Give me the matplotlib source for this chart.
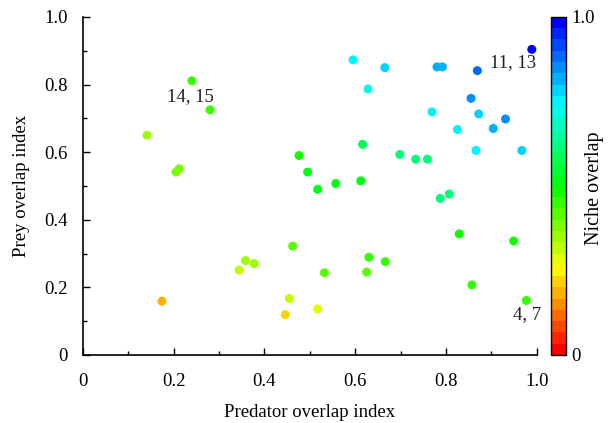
import matplotlib
matplotlib.use("Agg")
import matplotlib.pyplot as plt
from matplotlib.colors import LinearSegmentedColormap, Normalize
from matplotlib.ticker import MultipleLocator, FixedLocator
import numpy as np

plt.rcParams['font.family'] = ['Liberation Serif', 'DejaVu Serif']
plt.rcParams['mathtext.fontset'] = 'stix'

# Pairwise overlap indices
predator_overlap = [
    0.240, 0.280, 0.141, 0.205, 0.212, 0.476, 0.495, 0.517,
    0.989, 0.869, 0.595, 0.665, 0.780, 0.792, 0.628, 0.855,
    0.769, 0.872, 0.931, 0.825, 0.904, 0.616, 0.866, 0.967,
    0.698, 0.733, 0.759, 0.557, 0.612,
    0.787, 0.807, 0.829, 0.949, 0.630, 0.666, 0.532, 0.625,
    0.857, 0.977,
    0.462, 0.358, 0.377, 0.344, 0.174, 0.455, 0.446, 0.517,
]
prey_overlap = [
    0.811, 0.725, 0.650, 0.541, 0.551, 0.590, 0.541, 0.490,
    0.904, 0.841, 0.873, 0.850, 0.852, 0.852, 0.787, 0.759,
    0.719, 0.713, 0.698, 0.667, 0.670, 0.623, 0.605, 0.605,
    0.593, 0.579, 0.579, 0.507, 0.515,
    0.463, 0.476, 0.358, 0.337, 0.289, 0.276, 0.243, 0.245,
    0.207, 0.161,
    0.322, 0.279, 0.270, 0.251, 0.159, 0.167, 0.119, 0.136,
]
niche_overlap = [
    0.45, 0.46, 0.36, 0.38, 0.38, 0.49, 0.50, 0.50,
    0.97, 0.87, 0.74, 0.77, 0.82, 0.82, 0.70, 0.84,
    0.74, 0.79, 0.85, 0.76, 0.80, 0.57, 0.74, 0.79,
    0.62, 0.63, 0.63, 0.53, 0.51,
    0.60, 0.60, 0.49, 0.49, 0.45, 0.45, 0.41, 0.41,
    0.45, 0.44,
    0.43, 0.35, 0.35, 0.33, 0.17, 0.31, 0.23, 0.29,
]

pair_labels = ["14, 15", "11, 13", "4, 7"]
pair_label_pos = [(0.236, 0.763), (0.947, 0.864), (0.979, 0.118)]

tick_values = [0, 0.2, 0.4, 0.6, 0.8, 1.0]
tick_labels = ["0", "0.2", "0.4", "0.6", "0.8", "1.0"]

cmap = LinearSegmentedColormap.from_list(
    "niche",
    [(0.0, "#ff0000"), (0.25, "#ffff00"), (0.5, "#00ff00"),
     (0.75, "#00ffff"), (1.0, "#0000ff")],
    N=30,
)
norm = Normalize(vmin=0, vmax=1)

fig = plt.figure(figsize=(6.10, 4.23), dpi=100)
ax = fig.add_axes([0.136, 0.161, 0.744, 0.799])

ax.scatter(predator_overlap, prey_overlap, c=niche_overlap, cmap=cmap,
           norm=norm, s=42, edgecolors='none', zorder=3)

for lbl, (tx, ty) in zip(pair_labels, pair_label_pos):
    ax.text(tx, ty, lbl, ha='center', va='center', fontsize=13.5, color='#222222')

ax.set_xlim(0, 1.0)
ax.set_ylim(0, 1.0)
ax.xaxis.set_major_locator(FixedLocator(tick_values))
ax.yaxis.set_major_locator(FixedLocator(tick_values))
ax.set_xticklabels(tick_labels)
ax.set_yticklabels(tick_labels)
ax.xaxis.set_minor_locator(MultipleLocator(0.1))
ax.yaxis.set_minor_locator(MultipleLocator(0.1))
ax.tick_params(which='major', direction='in', length=5, width=1, labelsize=13.5)
ax.tick_params(which='minor', direction='in', length=3, width=1)
ax.tick_params(axis='x', pad=13)
ax.tick_params(axis='y', pad=11)
for side in ('top', 'right'):
    ax.spines[side].set_visible(False)
for side in ('left', 'bottom'):
    ax.spines[side].set_linewidth(1.2)

ax.set_xlabel("Predator overlap index", fontsize=13.5, labelpad=10)
ax.set_ylabel("Prey overlap index", fontsize=13.5, labelpad=10)

cax = fig.add_axes([0.903, 0.161, 0.0246, 0.799])
sm = plt.cm.ScalarMappable(norm=norm, cmap=cmap)
cb = fig.colorbar(sm, cax=cax)
cb.set_ticks([0, 1.0])
cb.set_ticklabels(["0", "1.0"])
cb.ax.tick_params(length=0, labelsize=13.5, pad=4)
cb.outline.set_linewidth(1.0)

fig.text(594 / 610, 1 - 188 / 423, "Niche overlap", rotation=90,
         ha='center', va='center', fontsize=14.5)

fig.savefig("out.png", dpi=100)
